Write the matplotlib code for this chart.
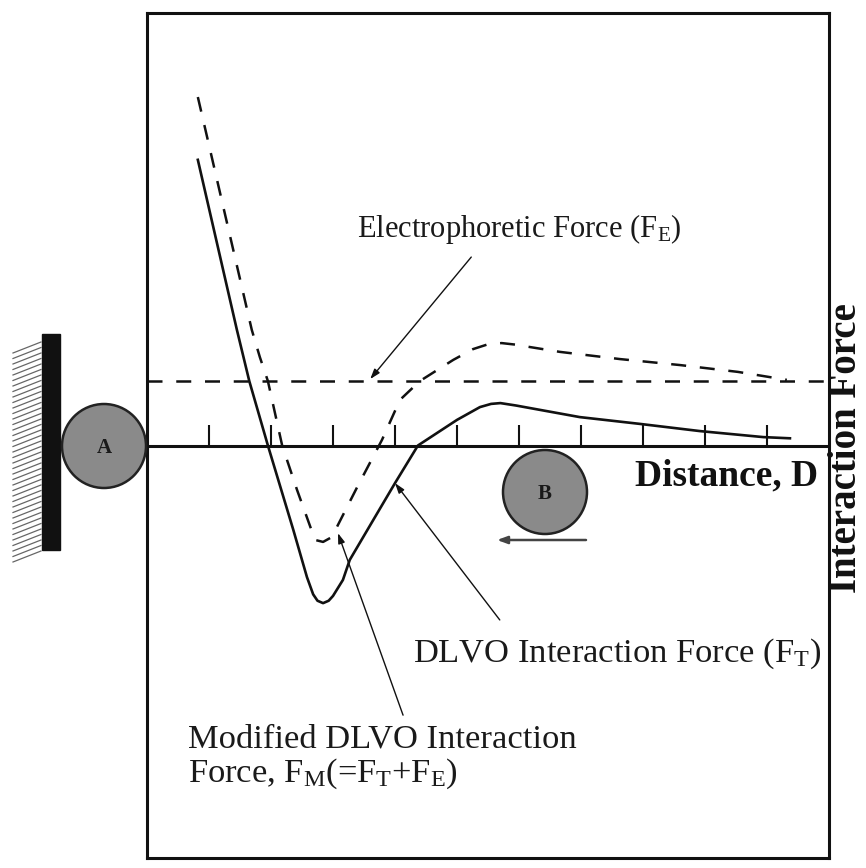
import numpy as np
import matplotlib.pyplot as plt
from matplotlib.patches import Circle, Rectangle

plt.rcParams['font.family'] = ['Liberation Serif', 'DejaVu Serif']
plt.rcParams['mathtext.fontset'] = 'custom'
plt.rcParams['mathtext.rm'] = 'Liberation Serif'
plt.rcParams['mathtext.it'] = 'Liberation Serif'

# distance in tick units, force in arbitrary units (0 = axis line)
ticks = [1, 2, 3, 4, 5, 6, 7, 8, 9, 10]

# DLVO interaction force F_T (solid)
ft_x = [0.82, 1.45, 1.65, 1.95, 2.36, 2.58, 2.68, 2.75, 2.84, 2.93, 3.00, 3.16, 3.27,
        3.65, 4.00, 4.37, 5.00, 5.37, 5.55, 5.70, 5.95, 6.34, 6.98, 7.95, 8.92, 9.94, 10.37]
ft_y = [7.14, 2.89, 1.61, 0.00, -2.11, -3.29, -3.72, -3.88, -3.94, -3.88, -3.76, -3.36, -2.86,
        -1.86, -0.94, 0.00, 0.64, 0.96, 1.04, 1.06, 1.00, 0.89, 0.71, 0.54, 0.36, 0.21, 0.18]

# modified DLVO force F_M = F_T + F_E (dashed)
fm_x = [0.82, 1.69, 1.82, 1.95, 2.18, 2.42, 2.71, 2.84, 2.98, 3.39, 3.79,
        4.08, 4.40, 4.94, 5.26, 5.50, 5.72, 5.95, 6.18, 6.66, 7.63, 8.60, 9.53, 10.32]
fm_y = [8.71, 2.89, 2.21, 1.61, 0.00, -1.11, -2.36, -2.41, -2.29, -1.04, 0.14,
        1.14, 1.61, 2.14, 2.41, 2.53, 2.56, 2.52, 2.46, 2.34, 2.16, 2.01, 1.84, 1.64]

# electrophoretic force F_E (constant)
fe_level = 1.61

fig = plt.figure(figsize=(8.66, 8.68), dpi=100)
ax = fig.add_axes([147/866, 10/868, (829-147)/866, 845/868])
ax.set_xlim(0, 11)
ax.set_ylim(-10.31, 10.81)
ax.set_xticks([])
ax.set_yticks([])
for s in ax.spines.values():
    s.set_linewidth(2.2)
    s.set_color('#111111')

ax.axhline(0, color='#111111', lw=2.2, zorder=2)
ax.vlines(ticks, 0, 0.5, color='#111111', lw=1.5)
ax.axhline(fe_level, color='#111111', lw=1.8, ls=(0, (6, 5.5)))
ax.plot(ft_x, ft_y, color='#111111', lw=1.9)
ax.plot(fm_x, fm_y, color='#111111', lw=1.8, ls=(0, (6, 5.5)))

arr = dict(arrowstyle='-|>,head_length=0.6,head_width=0.2', color='#111111', lw=1.0,
           shrinkA=0, shrinkB=0)
ax.annotate('', xy=(3.6, 1.66), xytext=(5.23, 4.71), arrowprops=arr)
ax.annotate('', xy=(4.0, -0.94), xytext=(5.69, -4.36), arrowprops=arr)
ax.annotate('', xy=(3.08, -2.19), xytext=(4.13, -6.74), arrowprops=arr)

# overlay in pixel coordinates for the sketch parts
ov = fig.add_axes([0, 0, 1, 1])
ov.set_xlim(0, 866)
ov.set_ylim(868, 0)
ov.axis('off')
ov.patch.set_alpha(0)

tfs = 24.8
ov.text(357, 237, r'Electrophoretic Force (F$_\mathregular{E}$)', fontsize=22,
        color='#1a1a1a', va='baseline')
ov.text(413, 662, r'DLVO Interaction Force (F$_\mathregular{T}$)', fontsize=tfs,
        color='#1a1a1a', va='baseline')
ov.text(188, 747, 'Modified DLVO Interaction', fontsize=tfs, color='#1a1a1a', va='baseline')
ov.text(188, 782, r'Force, F$_\mathregular{M}$(=F$_\mathregular{T}$+F$_\mathregular{E}$)',
        fontsize=tfs, color='#1a1a1a', va='baseline')
ov.text(635, 485, 'Distance, D', fontsize=27, fontweight='bold', color='#111111', va='baseline')
ov.text(846, 448, 'Interaction Force', fontsize=28, fontweight='bold', color='#111111',
        rotation=90, ha='center', va='center')

# wall with hatching
ov.add_patch(Rectangle((42, 334), 18, 216, color='#111111'))
for yy in np.arange(342, 556, 5.5):
    ov.plot([13, 41], [yy + 11, yy], color='#666666', lw=0.9)

# particles
for cx, cy, lab in [(104, 446, 'A'), (545, 492, 'B')]:
    ov.add_patch(Circle((cx, cy), 42, facecolor='#8a8a8a', edgecolor='#222222', lw=1.8))
    ov.text(cx, cy + 2, lab, fontsize=15, fontweight='bold', color='#1a1a1a',
            ha='center', va='center')

ov.annotate('', xy=(497, 540), xytext=(586, 540),
            arrowprops=dict(arrowstyle='-|>,head_length=0.6,head_width=0.22',
                            color='#444444', lw=1.8, shrinkA=0, shrinkB=0))

fig.savefig('out.png', dpi=100)
